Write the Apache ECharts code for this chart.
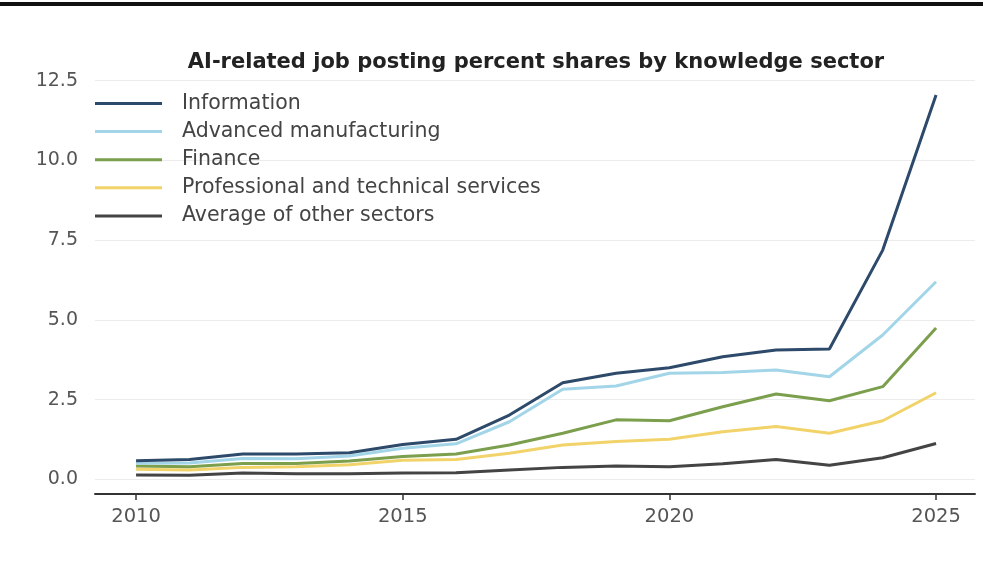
<!DOCTYPE html>
<html>
<head>
<meta charset="utf-8">
<script src="https://cdn.jsdelivr.net/npm/echarts@6/dist/echarts.min.js"></script>
<style>
  html, body { margin: 0; padding: 0; background: #fff; }
  #chart { width: 983px; height: 565px; }
</style>
</head>
<body>
<div id="chart"></div>
<script>
// AI-related job posting shares (%) by knowledge sector, 2010–2025
const years = [2010, 2011, 2012, 2013, 2014, 2015, 2016, 2017, 2018, 2019, 2020, 2021, 2022, 2023, 2024, 2025];
const information   = [0.59, 0.63, 0.80, 0.80, 0.84, 1.10, 1.26, 2.02, 3.03, 3.33, 3.50, 3.85, 4.06, 4.09, 7.19, 12.05];
const advancedMfg   = [0.51, 0.52, 0.66, 0.65, 0.74, 0.98, 1.12, 1.81, 2.83, 2.93, 3.33, 3.35, 3.43, 3.22, 4.53, 6.20];
const finance       = [0.42, 0.40, 0.50, 0.50, 0.58, 0.72, 0.80, 1.08, 1.45, 1.87, 1.84, 2.28, 2.68, 2.47, 2.91, 4.75];
const professional  = [0.32, 0.30, 0.38, 0.40, 0.46, 0.60, 0.63, 0.82, 1.08, 1.19, 1.26, 1.50, 1.66, 1.45, 1.84, 2.72];
const otherAverage  = [0.14, 0.13, 0.20, 0.18, 0.18, 0.20, 0.21, 0.30, 0.38, 0.42, 0.40, 0.49, 0.63, 0.45, 0.68, 1.13];

const yearTicks = [2010, 2015, 2020, 2025];
const seriesNames = [
  'Information',
  'Advanced manufacturing',
  'Finance',
  'Professional and technical services',
  'Average of other sectors'
];
const seriesValues = [information, advancedMfg, finance, professional, otherAverage];
const seriesColors = ['#2d4a6b', '#a3d5e8', '#7b9f4d', '#f1d36a', '#444444'];

const FONT = '"DejaVu Sans", "Liberation Sans", sans-serif';

const chart = echarts.init(document.getElementById('chart'), null, { renderer: 'canvas' });

chart.setOption({
  backgroundColor: '#ffffff',
  animation: false,
  title: {
    text: 'AI-related job posting percent shares by knowledge sector',
    left: 531,
    textAlign: 'center',
    top: 47,
    textStyle: { fontFamily: FONT, fontSize: 21, fontWeight: 'bold', color: '#222222' }
  },
  graphic: [{
    type: 'rect',
    left: 0, top: 2,
    shape: { width: 983, height: 4 },
    style: { fill: '#111111' }
  }],
  legend: {
    orient: 'vertical',
    left: 95,
    top: 93,
    padding: 0,
    icon: 'rect',
    itemWidth: 67,
    itemHeight: 3,
    itemGap: 7.1,
    data: seriesNames,
    textStyle: {
      fontFamily: FONT, fontSize: 20.5, color: '#444444',
      padding: [0, 0, 0, 15]
    }
  },
  grid: { left: 95, right: 8, top: 80.7, bottom: 85.5, containLabel: false },
  xAxis: {
    type: 'value',
    min: 2009.23,
    max: 2025.73,
    offset: 14.5,
    axisLine: { show: true, onZero: false, lineStyle: { color: '#333333', width: 2 } },
    axisTick: { show: true, customValues: yearTicks, length: 6, lineStyle: { color: '#333333', width: 1.5 } },
    axisLabel: {
      customValues: yearTicks,
      margin: 13,
      fontFamily: FONT, fontSize: 19.5, color: '#555555',
      formatter: v => String(Math.round(v))
    },
    splitLine: { show: false }
  },
  yAxis: {
    type: 'value',
    min: 0,
    max: 12.5,
    interval: 2.5,
    axisLine: { show: false },
    axisTick: { show: false },
    axisLabel: {
      margin: 17,
      fontFamily: FONT, fontSize: 19, color: '#555555',
      formatter: v => v.toFixed(1)
    },
    splitLine: { show: true, lineStyle: { color: '#ececec', width: 1.2 } }
  },
  series: seriesNames.map((name, i) => ({
    name,
    type: 'line',
    data: years.map((y, j) => [y, seriesValues[i][j]]),
    symbol: 'none',
    color: seriesColors[i],
    lineStyle: { width: 3, color: seriesColors[i] },
    z: 10 - i
  }))
});
</script>
</body>
</html>
